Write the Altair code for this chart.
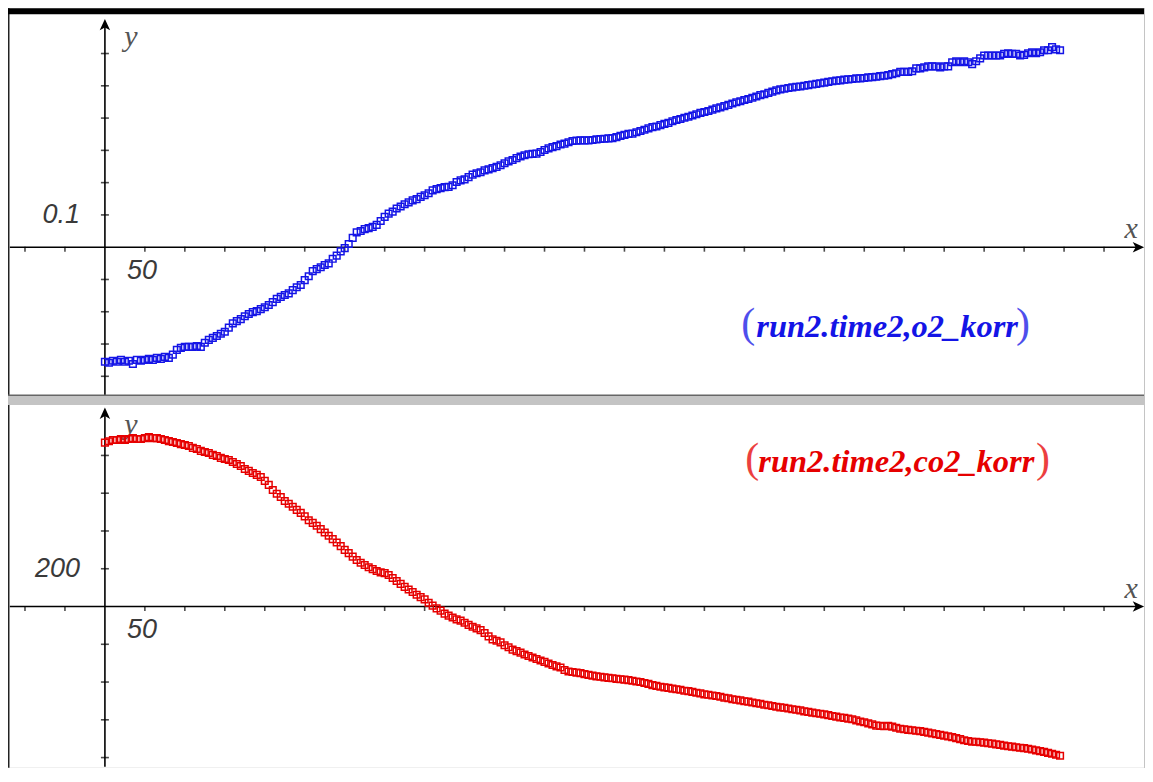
import altair as alt
import pandas as pd

# ---------------- data ----------------
time_s = list(range(0, 1200, 5))

o2_korr = [
    -0.355, -0.358, -0.352, -0.355, -0.349, -0.355, -0.352, -0.362, -0.349, -0.352,
    -0.349, -0.346, -0.349, -0.343, -0.346, -0.340, -0.343, -0.333, -0.318, -0.312,
    -0.309, -0.309, -0.309, -0.306, -0.309, -0.296, -0.287, -0.281, -0.275, -0.268,
    -0.262, -0.249, -0.236, -0.229, -0.223, -0.214, -0.207, -0.201, -0.198, -0.192,
    -0.186, -0.179, -0.170, -0.160, -0.154, -0.148, -0.143, -0.133, -0.124, -0.117,
    -0.102, -0.090, -0.074, -0.068, -0.062, -0.055, -0.050, -0.036, -0.026, -0.013,
    -0.003, 0.010, 0.029, 0.046, 0.050, 0.056, 0.059, 0.063, 0.069, 0.081,
    0.094, 0.104, 0.110, 0.120, 0.126, 0.133, 0.139, 0.145, 0.149, 0.156,
    0.161, 0.167, 0.176, 0.180, 0.183, 0.186, 0.187, 0.192, 0.202, 0.207,
    0.210, 0.217, 0.225, 0.229, 0.232, 0.238, 0.241, 0.245, 0.249, 0.254,
    0.260, 0.266, 0.270, 0.276, 0.281, 0.285, 0.288, 0.289, 0.290, 0.295,
    0.301, 0.306, 0.310, 0.313, 0.318, 0.321, 0.325, 0.329, 0.330, 0.331,
    0.331, 0.331, 0.332, 0.334, 0.335, 0.336, 0.337, 0.338, 0.341, 0.345,
    0.348, 0.351, 0.352, 0.356, 0.360, 0.364, 0.368, 0.372, 0.374, 0.378,
    0.382, 0.385, 0.390, 0.394, 0.397, 0.401, 0.404, 0.408, 0.412, 0.416,
    0.419, 0.422, 0.426, 0.430, 0.433, 0.437, 0.441, 0.445, 0.449, 0.452,
    0.456, 0.459, 0.463, 0.467, 0.471, 0.474, 0.478, 0.482, 0.486, 0.489,
    0.491, 0.493, 0.495, 0.497, 0.498, 0.500, 0.502, 0.504, 0.506, 0.508,
    0.510, 0.512, 0.514, 0.516, 0.517, 0.519, 0.520, 0.521, 0.523, 0.523,
    0.524, 0.526, 0.527, 0.528, 0.530, 0.531, 0.533, 0.536, 0.539, 0.543,
    0.543, 0.543, 0.545, 0.554, 0.554, 0.557, 0.560, 0.560, 0.560, 0.557,
    0.560, 0.560, 0.573, 0.576, 0.573, 0.576, 0.573, 0.567, 0.576, 0.585,
    0.594, 0.594, 0.594, 0.594, 0.594, 0.599, 0.601, 0.599, 0.599, 0.594,
    0.596, 0.601, 0.604, 0.601, 0.604, 0.610, 0.610, 0.620, 0.613, 0.610,
]

co2_korr = [
    868, 875, 882, 882, 887, 882, 887, 892, 887, 887,
    892, 897, 892, 892, 887, 882, 876, 871, 866, 860,
    855, 850, 840, 834, 824, 818, 813, 803, 797, 787,
    781, 776, 765, 755, 744, 728, 718, 707, 697, 686,
    665, 644, 617, 597, 580, 559, 544, 528, 512, 496,
    477, 457, 443, 428, 410, 392, 375, 357, 339, 320,
    300, 283, 264, 246, 232, 220, 208, 198, 188, 181,
    177, 167, 151, 135, 120, 104, 90, 77, 62, 50,
    38, 20, 5, -10, -22, -38, -48, -58, -68, -75,
    -86, -97, -107, -116, -125, -140, -158, -174, -181, -190,
    -205, -216, -228, -236, -244, -254, -262, -270, -278, -286,
    -293, -302, -310, -317, -323, -336, -344, -347, -350, -353,
    -358, -362, -366, -370, -372, -375, -378, -380, -383, -385,
    -387, -390, -393, -397, -400, -405, -410, -416, -420, -425,
    -428, -431, -435, -438, -441, -446, -448, -452, -457, -460,
    -465, -467, -471, -474, -478, -483, -486, -491, -494, -497,
    -502, -504, -508, -512, -515, -520, -523, -527, -531, -534,
    -536, -540, -544, -547, -550, -555, -558, -562, -565, -568,
    -571, -575, -580, -583, -588, -590, -594, -597, -603, -609,
    -613, -619, -624, -631, -632, -634, -632, -636, -642, -647,
    -650, -653, -655, -658, -660, -664, -668, -672, -676, -680,
    -684, -688, -692, -697, -702, -708, -712, -716, -716, -719,
    -721, -724, -726, -730, -733, -737, -740, -742, -745, -748,
    -750, -753, -757, -762, -766, -770, -775, -780, -785, -790,
]

x_ticks = [-100, -50] + list(range(50, 1300, 50))
o2_ticks = [-0.4, -0.3, -0.2, -0.1, 0.1, 0.2, 0.3, 0.4, 0.5, 0.6]
co2_ticks = [-800, -600, -400, -200, 200, 400, 600, 800]

x_label = "50"
o2_label = "0.1"
co2_label = "200"
o2_formula = "run2.time2,o2_korr"
co2_formula = "run2.time2,co2_korr"

BLUE = "#1414e6"
RED = "#e60000"

W = 1137
H1 = 388
H2 = 363

X_DOMAIN = [-121.25, 1300]
X_ARROW = 1292
X_LETTER = 1284
Y1_DOMAIN = [-0.461, 0.740]
Y2_DOMAIN = [-853.4, 1067.2]

UP_ARROW = "M0,-1L0.8,0.75L0,0.3L-0.8,0.75Z"
RIGHT_ARROW = "M1,0L-0.75,0.8L-0.3,0L-0.75,-0.8Z"

TICK_FONT = "Liberation Sans"
LETTER_FONT = "Liberation Serif"


def panel(values, color, ydom, ystart, yticks, ylab, ylab_val, yarrow, ylet, formula,
          fx, fy, plx, prx, h, top_bar):
    xs = alt.Scale(domain=X_DOMAIN, nice=False, zero=False)
    ys = alt.Scale(domain=ydom, nice=False, zero=False)

    def X(f):
        return alt.X(f, type="quantitative", scale=xs, axis=None)

    def Y(f):
        return alt.Y(f, type="quantitative", scale=ys, axis=None)

    df = pd.DataFrame({"t": time_s, "v": values})
    layers = []

    # axes lines
    layers.append(
        alt.Chart(pd.DataFrame({"a": [-119], "b": [X_ARROW], "y": [0]}))
        .mark_rule(color="black", strokeWidth=1.6)
        .encode(x=X("a"), x2="b", y=Y("y"))
    )
    layers.append(
        alt.Chart(pd.DataFrame({"x": [0], "a": [ystart], "b": [yarrow]}))
        .mark_rule(color="black", strokeWidth=1.6)
        .encode(x=X("x"), y=Y("a"), y2="b")
    )
    # ticks
    layers.append(
        alt.Chart(pd.DataFrame({"x": x_ticks, "y": [0] * len(x_ticks)}))
        .mark_tick(orient="vertical", size=5, thickness=1.6, color="black", yOffset=2)
        .encode(x=X("x"), y=Y("y"))
    )
    layers.append(
        alt.Chart(pd.DataFrame({"x": [0] * len(yticks), "y": yticks}))
        .mark_tick(orient="horizontal", size=8, thickness=1.6, color="black")
        .encode(x=X("x"), y=Y("y"))
    )
    # arrow heads
    layers.append(
        alt.Chart(pd.DataFrame({"x": [0], "y": [yarrow]}))
        .mark_point(shape=UP_ARROW, filled=True, size=170, color="black", opacity=1)
        .encode(x=X("x"), y=Y("y"))
    )
    layers.append(
        alt.Chart(pd.DataFrame({"x": [X_ARROW], "y": [0]}))
        .mark_point(shape=RIGHT_ARROW, filled=True, size=170, color="black", opacity=1)
        .encode(x=X("x"), y=Y("y"))
    )
    # tick labels
    layers.append(
        alt.Chart(pd.DataFrame({"x": [50], "y": [0], "s": [x_label]}))
        .mark_text(font=TICK_FONT, fontStyle="italic", fontSize=27, color="#3a3a3a",
                   align="center", baseline="middle", dx=-3, dy=24)
        .encode(x=X("x"), y=Y("y"), text="s:N")
    )
    layers.append(
        alt.Chart(pd.DataFrame({"x": [0], "y": [ylab_val], "s": [ylab]}))
        .mark_text(font=TICK_FONT, fontStyle="italic", fontSize=27, color="#3a3a3a",
                   align="right", baseline="middle", dx=-25)
        .encode(x=X("x"), y=Y("y"), text="s:N")
    )
    # axis letters
    layers.append(
        alt.Chart(pd.DataFrame({"x": [X_LETTER], "y": [0], "s": ["x"]}))
        .mark_text(font=LETTER_FONT, fontStyle="italic", fontSize=30, color="#555555",
                   align="center", baseline="alphabetic", dy=-9)
        .encode(x=X("x"), y=Y("y"), text="s:N")
    )
    layers.append(
        alt.Chart(pd.DataFrame({"x": [0], "y": [ylet], "s": ["y"]}))
        .mark_text(font=LETTER_FONT, fontStyle="italic", fontSize=30, color="#555555",
                   align="center", baseline="alphabetic", dx=26)
        .encode(x=X("x"), y=Y("y"), text="s:N")
    )
    # data
    layers.append(
        alt.Chart(df)
        .mark_point(shape="square", filled=False, size=44, strokeWidth=1.5,
                    color=color, opacity=1, clip=True)
        .encode(x=X("t"), y=Y("v"))
    )
    # formula label
    layers.append(
        alt.Chart(pd.DataFrame({"x": [fx], "y": [fy], "s": [formula]}))
        .mark_text(font=LETTER_FONT, fontStyle="italic", fontWeight="bold", fontSize=32.5,
                   color=color, align="left", baseline="alphabetic")
        .encode(x=X("x"), y=Y("y"), text="s:N")
    )
    layers.append(
        alt.Chart(pd.DataFrame({"x": [plx, prx], "y": [fy, fy], "s": ["(", ")"]}))
        .mark_text(font=LETTER_FONT, fontSize=42, color=color, opacity=0.75,
                   align="left", baseline="alphabetic")
        .encode(x=X("x"), y=Y("y"), text="s:N")
    )
    # frame decorations (rects keep the bounds inside the view)
    layers.append(
        alt.Chart().mark_rect(color="#222222")
        .encode(x=alt.value(0), x2=alt.value(1.5), y=alt.value(0), y2=alt.value(h))
    )
    if top_bar:
        layers.append(
            alt.Chart().mark_rect(color="black")
            .encode(x=alt.value(0), x2=alt.value(W), y=alt.value(0), y2=alt.value(6))
        )
        layers.append(
            alt.Chart().mark_rect(color="#666666")
            .encode(x=alt.value(0), x2=alt.value(W), y=alt.value(h - 1.5), y2=alt.value(h))
        )
    return alt.layer(*layers).properties(width=W, height=h)


top = panel(o2_korr, BLUE, Y1_DOMAIN, -0.458, o2_ticks, o2_label, 0.1, 0.687, 0.622,
            o2_formula, 815, -0.279, 796, 1140, H1, True)
bottom = panel(co2_korr, RED, Y2_DOMAIN, -848, co2_ticks, co2_label, 200, 1019, 914,
               co2_formula, 817.5, 712, 801, 1165, H2, False)

chart = (
    alt.vconcat(top, bottom, spacing=9)
    .properties(padding=0, background="#c4c4c4")
    .configure_view(stroke=None, fill="white")
)

chart.save("out.html", embed_options={"renderer": "svg", "actions": False})
